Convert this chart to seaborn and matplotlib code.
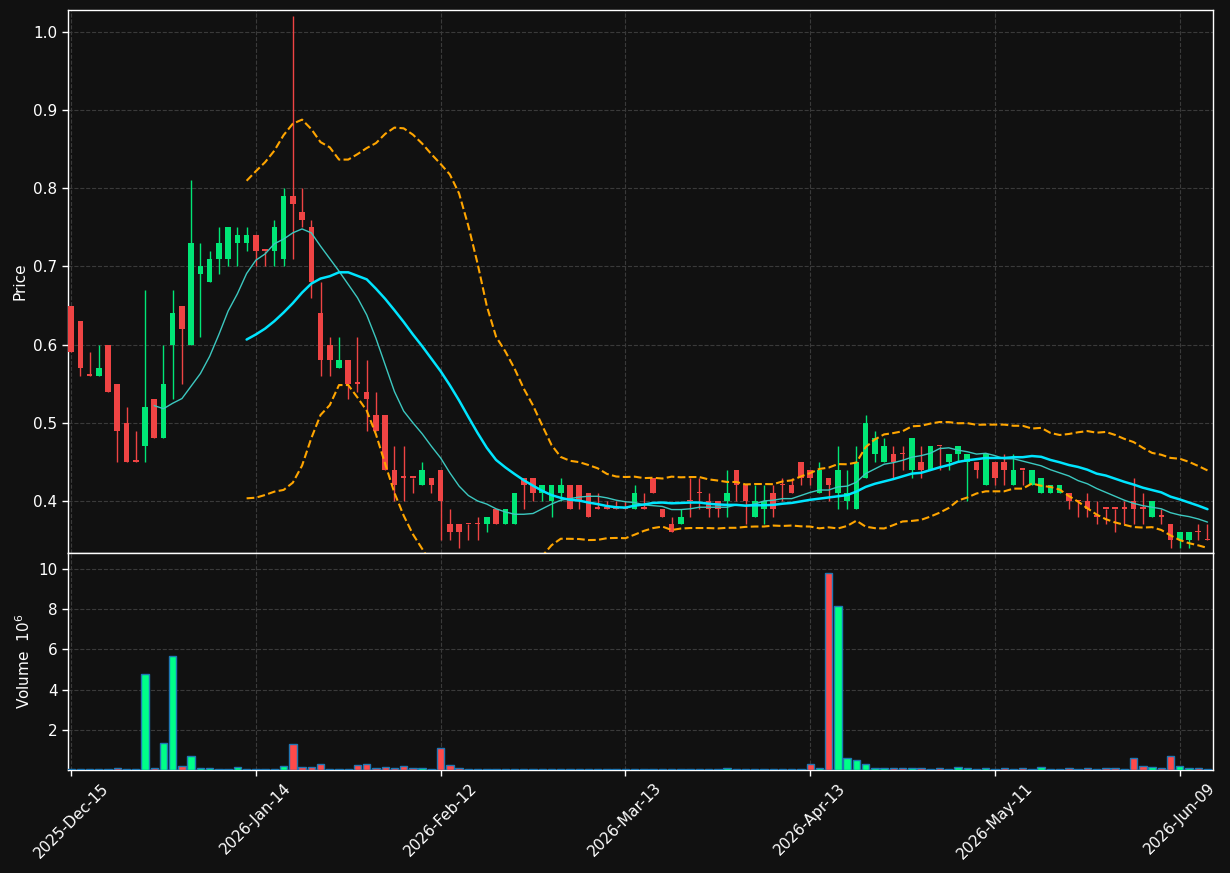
import numpy as np
import pandas as pd
import seaborn as sns
import matplotlib
matplotlib.use("Agg")
import matplotlib.pyplot as plt

# exchange holidays skipped by the trading calendar
HOLIDAYS = ["2025-12-25", "2026-01-01", "2026-01-19", "2026-02-16", "2026-04-03", "2026-05-25"]

opens = [0.65, 0.63, 0.56, 0.56, 0.60, 0.55, 0.50, 0.45, 0.47, 0.53,
         0.48, 0.60, 0.65, 0.60, 0.69, 0.68, 0.71, 0.71, 0.73, 0.73,
         0.74, 0.72, 0.72, 0.71, 0.79, 0.77, 0.75, 0.64, 0.60, 0.57,
         0.58, 0.55, 0.54, 0.51, 0.51, 0.44, 0.43, 0.43, 0.42, 0.43,
         0.44, 0.37, 0.37, 0.37, 0.37, 0.37, 0.39, 0.37, 0.37, 0.43,
         0.43, 0.41, 0.40, 0.41, 0.42, 0.42, 0.41, 0.39, 0.39, 0.39,
         0.39, 0.39, 0.39, 0.43, 0.39, 0.37, 0.37, 0.40, 0.41, 0.40,
         0.40, 0.40, 0.44, 0.42, 0.38, 0.39, 0.41, 0.42, 0.42, 0.45,
         0.44, 0.41, 0.43, 0.41, 0.40, 0.39, 0.43, 0.46, 0.45, 0.46,
         0.46, 0.44, 0.45, 0.44, 0.47, 0.45, 0.46, 0.45, 0.45, 0.42,
         0.45, 0.45, 0.42, 0.44, 0.42, 0.41, 0.41, 0.41, 0.41, 0.40,
         0.40, 0.38, 0.39, 0.39, 0.39, 0.40, 0.39, 0.38, 0.38, 0.37,
         0.35, 0.35, 0.36, 0.35]
highs = [0.65, 0.63, 0.59, 0.60, 0.60, 0.55, 0.52, 0.49, 0.67, 0.53,
         0.60, 0.67, 0.65, 0.81, 0.73, 0.72, 0.75, 0.75, 0.75, 0.75,
         0.74, 0.72, 0.76, 0.80, 1.02, 0.80, 0.76, 0.68, 0.61, 0.61,
         0.58, 0.61, 0.58, 0.54, 0.51, 0.47, 0.47, 0.43, 0.45, 0.43,
         0.44, 0.39, 0.37, 0.37, 0.38, 0.38, 0.39, 0.39, 0.41, 0.43,
         0.43, 0.42, 0.42, 0.43, 0.42, 0.42, 0.41, 0.41, 0.40, 0.40,
         0.40, 0.42, 0.41, 0.43, 0.39, 0.38, 0.39, 0.43, 0.43, 0.41,
         0.40, 0.44, 0.44, 0.42, 0.42, 0.42, 0.42, 0.43, 0.43, 0.45,
         0.44, 0.45, 0.43, 0.47, 0.44, 0.47, 0.51, 0.49, 0.48, 0.47,
         0.47, 0.48, 0.47, 0.47, 0.47, 0.46, 0.47, 0.46, 0.45, 0.46,
         0.45, 0.46, 0.46, 0.44, 0.44, 0.43, 0.42, 0.42, 0.41, 0.40,
         0.41, 0.40, 0.39, 0.39, 0.40, 0.43, 0.41, 0.40, 0.39, 0.37,
         0.36, 0.36, 0.37, 0.37]
lows = [0.59, 0.56, 0.56, 0.56, 0.54, 0.45, 0.45, 0.45, 0.45, 0.48,
        0.48, 0.53, 0.55, 0.60, 0.61, 0.68, 0.69, 0.70, 0.70, 0.72,
        0.70, 0.70, 0.70, 0.70, 0.71, 0.75, 0.66, 0.56, 0.56, 0.57,
        0.53, 0.54, 0.49, 0.49, 0.44, 0.40, 0.40, 0.41, 0.42, 0.41,
        0.35, 0.35, 0.34, 0.35, 0.35, 0.36, 0.37, 0.37, 0.37, 0.39,
        0.40, 0.40, 0.38, 0.40, 0.39, 0.39, 0.38, 0.39, 0.39, 0.39,
        0.39, 0.39, 0.39, 0.41, 0.38, 0.36, 0.37, 0.38, 0.39, 0.38,
        0.38, 0.38, 0.40, 0.37, 0.38, 0.37, 0.38, 0.40, 0.41, 0.42,
        0.42, 0.41, 0.40, 0.39, 0.39, 0.39, 0.43, 0.45, 0.45, 0.43,
        0.44, 0.43, 0.43, 0.44, 0.44, 0.44, 0.45, 0.40, 0.43, 0.42,
        0.42, 0.42, 0.42, 0.42, 0.42, 0.41, 0.41, 0.41, 0.39, 0.38,
        0.38, 0.37, 0.37, 0.36, 0.37, 0.37, 0.37, 0.38, 0.37, 0.34,
        0.34, 0.34, 0.35, 0.35]
closes = [0.59, 0.57, 0.56, 0.57, 0.54, 0.49, 0.45, 0.45, 0.52, 0.48,
          0.55, 0.64, 0.62, 0.73, 0.70, 0.71, 0.73, 0.75, 0.74, 0.74,
          0.72, 0.72, 0.75, 0.79, 0.78, 0.76, 0.68, 0.58, 0.58, 0.58,
          0.55, 0.55, 0.53, 0.49, 0.44, 0.42, 0.43, 0.43, 0.44, 0.42,
          0.40, 0.36, 0.36, 0.37, 0.37, 0.38, 0.37, 0.39, 0.41, 0.42,
          0.41, 0.42, 0.42, 0.42, 0.39, 0.40, 0.38, 0.39, 0.39, 0.39,
          0.39, 0.41, 0.39, 0.41, 0.38, 0.36, 0.38, 0.40, 0.41, 0.39,
          0.39, 0.41, 0.42, 0.40, 0.40, 0.40, 0.39, 0.42, 0.41, 0.43,
          0.43, 0.44, 0.42, 0.44, 0.41, 0.45, 0.50, 0.48, 0.47, 0.45,
          0.46, 0.48, 0.44, 0.47, 0.47, 0.46, 0.47, 0.46, 0.44, 0.46,
          0.43, 0.44, 0.44, 0.44, 0.44, 0.43, 0.42, 0.42, 0.40, 0.40,
          0.39, 0.38, 0.39, 0.39, 0.39, 0.39, 0.39, 0.40, 0.38, 0.35,
          0.36, 0.36, 0.36, 0.35]
# volume in millions
volumes = [0.05, 0.05, 0.05, 0.05, 0.04, 0.11, 0.04, 0.04, 4.78, 0.11,
           1.35, 5.65, 0.21, 0.71, 0.11, 0.11, 0.05, 0.05, 0.16, 0.05,
           0.04, 0.04, 0.05, 0.21, 1.30, 0.16, 0.16, 0.31, 0.05, 0.05,
           0.05, 0.26, 0.31, 0.11, 0.16, 0.11, 0.21, 0.11, 0.11, 0.04,
           1.10, 0.26, 0.11, 0.05, 0.05, 0.04, 0.05, 0.03, 0.04, 0.04,
           0.04, 0.04, 0.04, 0.04, 0.04, 0.04, 0.03, 0.04, 0.04, 0.03,
           0.04, 0.05, 0.03, 0.04, 0.04, 0.04, 0.04, 0.04, 0.04, 0.04,
           0.04, 0.11, 0.04, 0.04, 0.04, 0.04, 0.04, 0.03, 0.04, 0.05,
           0.31, 0.11, 9.80, 8.15, 0.61, 0.51, 0.31, 0.11, 0.11, 0.11,
           0.11, 0.11, 0.11, 0.05, 0.11, 0.05, 0.16, 0.11, 0.05, 0.11,
           0.05, 0.11, 0.05, 0.11, 0.05, 0.16, 0.05, 0.05, 0.11, 0.05,
           0.11, 0.05, 0.11, 0.11, 0.05, 0.61, 0.21, 0.16, 0.11, 0.71,
           0.21, 0.11, 0.11, 0.05]

dates = pd.bdate_range("2025-12-15", periods=len(closes), freq="C", holidays=HOLIDAYS)

df = pd.DataFrame({"date": dates, "open": opens, "high": highs,
                   "low": lows, "close": closes, "volume": volumes})
df["idx"] = np.arange(len(df))
df["sma10"] = df["close"].rolling(10).mean()
df["sma20"] = df["close"].rolling(20).mean()
std20 = df["close"].rolling(20).std(ddof=0)
df["bb_up"] = df["sma20"] + 2 * std20
df["bb_dn"] = df["sma20"] - 2 * std20

BG = "#111111"
UP, DOWN = "#00e676", "#ef4444"
VUP, VDOWN = "#00ff88", "#ff4a4a"

sns.set_theme(style="dark", rc={
    "axes.facecolor": BG, "figure.facecolor": BG,
    "axes.edgecolor": "white", "axes.labelcolor": "white",
    "xtick.color": "white", "ytick.color": "white", "text.color": "white",
    "grid.color": "#3a3a3a", "grid.linestyle": "--", "grid.linewidth": 0.8,
    "axes.grid": True,
})
plt.rcParams["font.family"] = ["DejaVu Sans"]

fig = plt.figure(figsize=(12.3, 8.73), dpi=100)
ax = fig.add_axes([0.0553, 0.3666, 0.9309, 0.6219])
axv = fig.add_axes([0.0553, 0.1180, 0.9309, 0.2486], sharex=ax)

up = df["close"] > df["open"]
ccol = np.where(up, UP, DOWN)

# candles
ax.vlines(df["idx"], df["low"], df["high"], colors=ccol, linewidth=1, zorder=2)
body_lo = np.minimum(df["open"], df["close"])
body_h = np.maximum((df["close"] - df["open"]).abs(), 0.0018)
ax.bar(df["idx"], body_h, bottom=body_lo, width=0.6, color=ccol, linewidth=0, zorder=3)

# moving averages and bollinger bands
sns.lineplot(data=df, x="idx", y="sma10", ax=ax, color="#3cc8c0", linewidth=1.0, zorder=4)
sns.lineplot(data=df, x="idx", y="sma20", ax=ax, color="#00e5ff", linewidth=1.8, zorder=5)
sns.lineplot(data=df, x="idx", y="bb_up", ax=ax, color="#ffa500", linewidth=1.5, linestyle="--", zorder=4)
sns.lineplot(data=df, x="idx", y="bb_dn", ax=ax, color="#ffa500", linewidth=1.5, linestyle="--", zorder=4)

# volume
vcol = np.where(up, VUP, VDOWN)
axv.bar(df["idx"], df["volume"], width=0.8, color=vcol, edgecolor="#1f77b4", linewidth=1, zorder=3)

ax.set_xlim(-0.33, 123.6)
ax.set_ylim(0.3335, 1.028)
axv.set_ylim(0, 10.8)

ax.set_yticks([0.4, 0.5, 0.6, 0.7, 0.8, 0.9, 1.0])
ax.set_yticklabels([f"{v:.1f}" for v in [0.4, 0.5, 0.6, 0.7, 0.8, 0.9, 1.0]])
axv.set_yticks([2, 4, 6, 8, 10])

ticks = df["idx"][::20]
axv.set_xticks(ticks)
axv.set_xticklabels(df["date"][::20].dt.strftime("%Y-%b-%d"), rotation=45, ha="center")
ax.tick_params(axis="x", labelbottom=False, length=0)
axv.tick_params(axis="x", length=4, width=1, labelsize=11, bottom=True)
ax.tick_params(axis="y", length=4, width=1, labelsize=11, left=True)
axv.tick_params(axis="y", length=4, width=1, labelsize=11, left=True)

ax.set_xlabel("")
axv.set_xlabel("")
ax.set_ylabel("Price", fontsize=11)
axv.set_ylabel("Volume  $10^{6}$", fontsize=11)

for a in (ax, axv):
    a.grid(True, axis="both", linestyle="--", color="#3a3a3a", linewidth=0.8)
    a.set_axisbelow(True)
    for s in a.spines.values():
        s.set_color("white")
        s.set_linewidth(1)

fig.savefig("out.png", dpi=100, facecolor=BG)
